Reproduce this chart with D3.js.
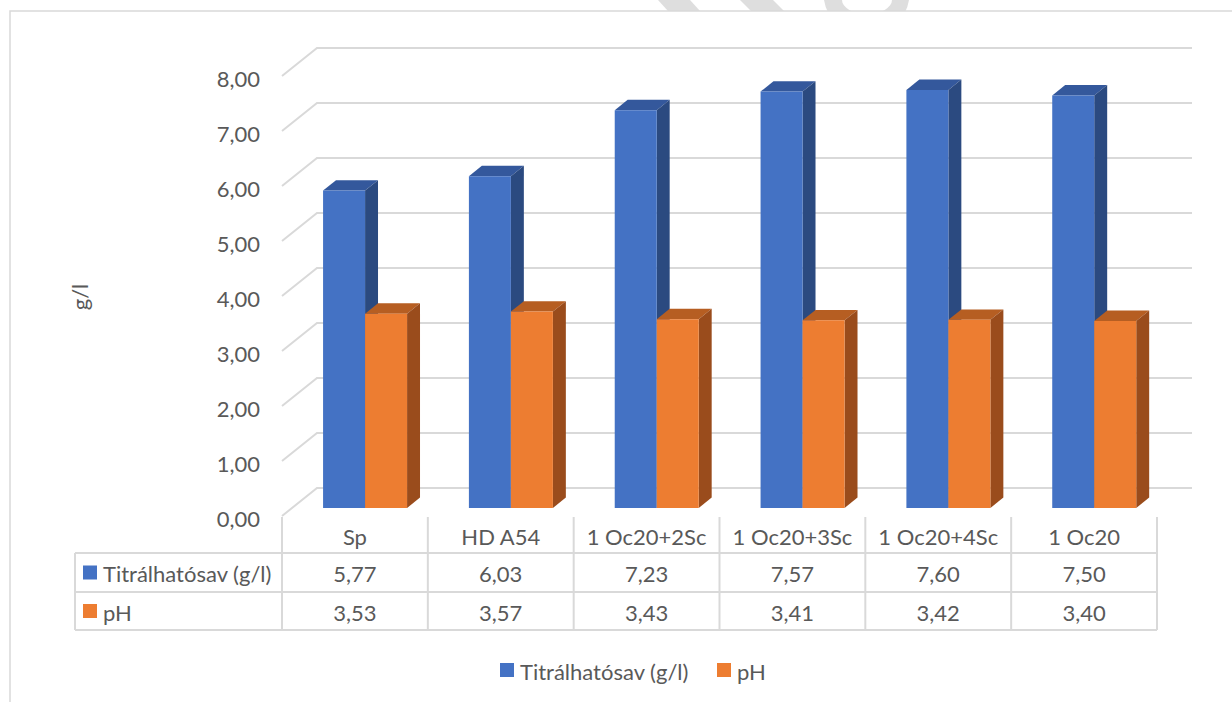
<!DOCTYPE html>
<html>
<head>
<meta charset="utf-8">
<script src="https://cdn.jsdelivr.net/npm/d3@7"></script>
<style>
  html, body { margin: 0; padding: 0; background: #fff; }
  svg { display: block; }
  text { font-family: Lato, "Open Sans", sans-serif; fill: #595959; }
</style>
</head>
<body>
<svg id="chart" width="1232" height="702"></svg>
<script>
// Data
const categories = ["Sp", "HD A54", "1 Oc20+2Sc", "1 Oc20+3Sc", "1 Oc20+4Sc", "1 Oc20"];
const seriesNames = ["Titrálhatósav (g/l)", "pH"];
const titralhato = [5.77, 6.03, 7.23, 7.57, 7.60, 7.50];
const ph = [3.53, 3.57, 3.43, 3.41, 3.42, 3.40];
const yTicks = [0, 1, 2, 3, 4, 5, 6, 7, 8];
const yTitle = "g/l";

const seriesValues = [titralhato, ph];
const colors = {
  front: ["#4472C4", "#ED7D31"],
  top: ["#34589C", "#B65E22"],
  side: ["#2B4A80", "#9A4C1C"]
};
const fmt = v => d3.format(".2f")(v).replace(".", ",");
const FS = 22;

const svg = d3.select("#chart");

// Faint page ornament peeking above the chart frame
const orn = svg.append("g").attr("fill", "#dedede");
orn.append("path").attr("d", "M658,0 L690,0 L700,11 L668,11 Z");
orn.append("path").attr("d", "M740,0 L773,0 L784,11 L751,11 Z");
orn.append("path").attr("d",
  "M824,0 A43,43 0 0 0 909,0 Z M842,0 A25,14 0 0 0 892,0 Z").attr("fill-rule", "evenodd");

// Chart frame
svg.append("rect").attr("x", 10).attr("y", 11).attr("width", 1240).attr("height", 720)
  .attr("fill", "#fff").attr("stroke", "#d9d9d9").attr("stroke-width", 1.5);

// 3D plot geometry
const x0 = 282, x1 = 1157;           // front floor edge
const depth = { dx: 35, dy: -28 };   // offset from front to back wall
const y = d3.scaleLinear().domain([0, 8]).range([516, 76]);
const proj = (px, py, f) => [px + f * depth.dx, py + f * depth.dy];

const xCol = d3.scaleBand().domain(categories).range([x0, x1]).padding(0);
const xGroup = d3.scaleBand().domain(categories).range([x0, x1])
  .paddingInner(0.424).paddingOuter(0.212);
const xSeries = d3.scaleBand().domain(d3.range(seriesNames.length))
  .range([0, xGroup.bandwidth()]).padding(0);

// Gridlines: left wall diagonal + back wall horizontal
const grid = svg.append("g").attr("stroke", "#d9d9d9").attr("stroke-width", 2).attr("fill", "none");
yTicks.forEach(t => {
  const a = [x0, y(t)], b = proj(x0, y(t), 1), c = proj(x1, y(t), 1);
  grid.append("path").attr("d", `M${a[0]},${a[1]} L${b[0]},${b[1]} L${c[0]},${c[1]}`);
});

// Tick labels
svg.append("g").selectAll("text").data(yTicks).join("text")
  .attr("x", 260).attr("y", d => y(d) + 2)
  .attr("text-anchor", "end").attr("dominant-baseline", "central")
  .attr("font-size", FS).text(fmt);

// Axis title
svg.append("text").attr("transform", "translate(79,297) rotate(-90)")
  .attr("text-anchor", "middle").attr("dominant-baseline", "central")
  .attr("font-size", FS).text(yTitle);

// Bars (oblique 3D prisms)
const f1 = 0.29, f2 = 0.66;
const bars = svg.append("g");
categories.forEach((cat, i) => {
  seriesValues.forEach((vals, s) => {
    const v = vals[i];
    const xl = xGroup(cat) + xSeries(s);
    const xr = xl + xSeries.bandwidth();
    const yb = y(0), yt = y(v);
    const FL = proj(xl, yt, f1), FR = proj(xr, yt, f1);
    const BL = proj(xl, yt, f2), BR = proj(xr, yt, f2);
    const FRb = proj(xr, yb, f1), BRb = proj(xr, yb, f2);
    const FLb = proj(xl, yb, f1);
    const poly = pts => "M" + pts.map(p => p.join(",")).join("L") + "Z";
    bars.append("path").attr("d", poly([FL, FR, BR, BL])).attr("fill", colors.top[s]);
    bars.append("path").attr("d", poly([FR, BR, BRb, FRb])).attr("fill", colors.side[s]);
    bars.append("path").attr("d", poly([FL, FR, FRb, FLb])).attr("fill", colors.front[s]);
  });
});

// Data table
const tTop = 517, r1 = 553, r2 = 592, r3 = 630, tLeft = 75;
const tbl = svg.append("g").attr("stroke", "#d9d9d9").attr("stroke-width", 2).attr("fill", "none");
const colEdges = categories.map(c => xCol(c)).concat([x1]);
colEdges.forEach(cx => tbl.append("line").attr("x1", cx).attr("x2", cx).attr("y1", tTop).attr("y2", r3));
tbl.append("line").attr("x1", tLeft).attr("x2", tLeft).attr("y1", r1).attr("y2", r3);
[r1, r2, r3].forEach(ry => tbl.append("line").attr("x1", tLeft).attr("x2", x1).attr("y1", ry).attr("y2", ry));

const colCenter = c => xCol(c) + xCol.bandwidth() / 2;
svg.append("g").selectAll("text").data(categories).join("text")
  .attr("x", colCenter).attr("y", (tTop + r1) / 2 + 1)
  .attr("text-anchor", "middle").attr("dominant-baseline", "central")
  .attr("font-size", FS).text(d => d);

const rowMid = [(r1 + r2) / 2, (r2 + r3) / 2];
seriesValues.forEach((vals, s) => {
  svg.append("g").selectAll("text").data(vals).join("text")
    .attr("x", (d, i) => colCenter(categories[i])).attr("y", rowMid[s] + 1)
    .attr("text-anchor", "middle").attr("dominant-baseline", "central")
    .attr("font-size", FS).text(fmt);
  svg.append("rect").attr("x", 83).attr("y", rowMid[s] - 7).attr("width", 14).attr("height", 14)
    .attr("fill", colors.front[s]);
  svg.append("text").attr("x", 103).attr("y", rowMid[s] + 1)
    .attr("dominant-baseline", "central").attr("font-size", FS).text(seriesNames[s]);
});

// Legend
const legend = svg.append("g").attr("transform", "translate(0,670)");
const legX = [500, 717];
seriesNames.forEach((name, s) => {
  legend.append("rect").attr("x", legX[s]).attr("y", -7).attr("width", 14).attr("height", 14)
    .attr("fill", colors.front[s]);
  legend.append("text").attr("x", legX[s] + 20).attr("y", 1)
    .attr("dominant-baseline", "central").attr("font-size", FS).text(name);
});
</script>
</body>
</html>
